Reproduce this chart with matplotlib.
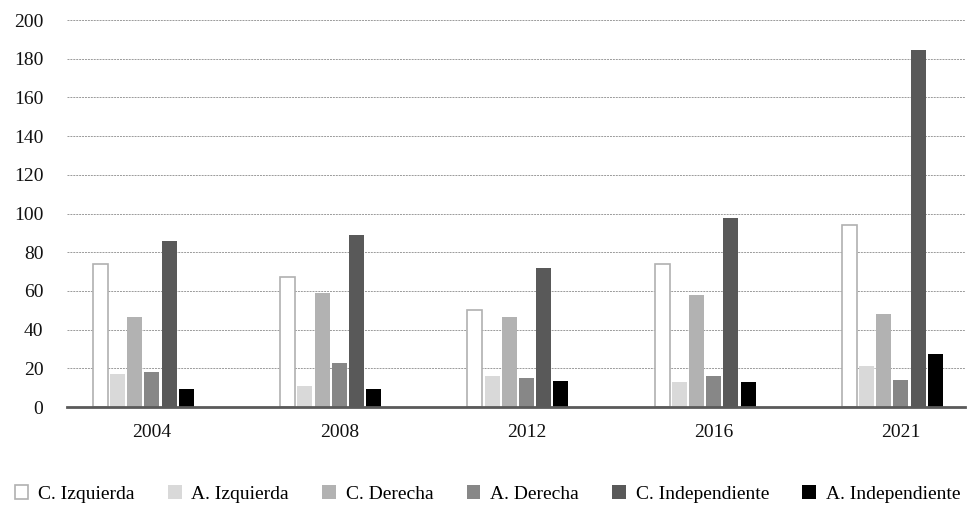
import numpy as np
import matplotlib
matplotlib.use('Agg')
import matplotlib.pyplot as plt

plt.rcParams['font.family'] = ['Liberation Serif', 'DejaVu Serif']

# data
years = ['2004', '2008', '2012', '2016', '2021']
series = ['C. Izquierda', 'A. Izquierda', 'C. Derecha', 'A. Derecha',
          'C. Independiente', 'A. Independiente']
c_izq = [74, 67, 50, 74, 94]
a_izq = [17, 11, 16, 13, 21]
c_der = [46.5, 59, 46.5, 58, 48]
a_der = [18, 23, 15, 16, 14]
c_ind = [86, 89, 72, 97.5, 184.5]
a_ind = [9.5, 9.5, 13.5, 13, 27.5]
values = [c_izq, a_izq, c_der, a_der, c_ind, a_ind]

fills = ['white', '#d9d9d9', '#b2b2b2', '#878787', '#595959', '#000000']
edges = ['#b0b0b0', 'none', 'none', 'none', 'none', 'none']

fig = plt.figure(figsize=(9.75, 5.08), dpi=100)
ax = fig.add_axes([0.0687, 0.1988, 0.9210, 0.7618])

x = np.arange(len(years))
step = 0.0919
width = 0.080
# the original groups leave room for a 7th (empty) slot
for i, (name, vals) in enumerate(zip(series, values)):
    offs = (i - 3) * step
    ax.bar(x + offs, vals, width=width, color=fills[i], edgecolor=edges[i],
           linewidth=1.2, label=name, zorder=3)

ax.set_xlim(-0.454, 4.342)
ax.set_ylim(0, 200)
ax.set_yticks(range(0, 201, 20))
ax.set_xticks(x)
ax.set_xticklabels(years)
ax.yaxis.grid(True, color='#9a9a9a', linestyle=(0, (2, 1)), linewidth=0.7, zorder=0)

for s in ['top', 'right', 'left']:
    ax.spines[s].set_visible(False)
ax.spines['bottom'].set_color('#5a5a5a')
ax.spines['bottom'].set_linewidth(2)
ax.spines['bottom'].set_zorder(4)
ax.tick_params(axis='both', length=0, labelsize=14, colors='#111111')
ax.tick_params(axis='x', pad=12)
ax.tick_params(axis='y', pad=17)

fig.legend(loc='center', bbox_to_anchor=(0.5, 0.028), ncol=6, frameon=False,
           fontsize=14, handlelength=0.7, handleheight=0.7, handletextpad=0.5,
           columnspacing=1.72)

fig.savefig('out.png', dpi=100)
